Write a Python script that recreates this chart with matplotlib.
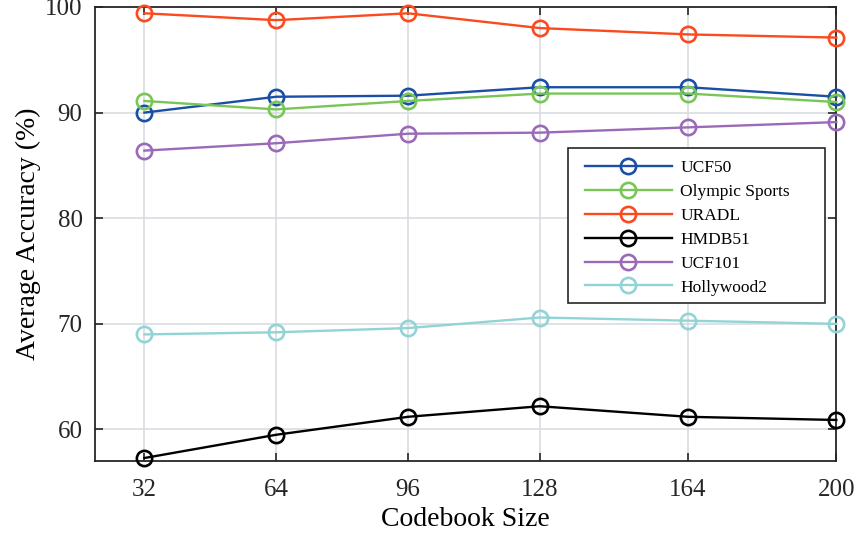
import matplotlib
matplotlib.use("Agg")
import matplotlib.pyplot as plt
from matplotlib.patches import Rectangle

codebook = [32, 64, 96, 128, 164, 200]
ucf50 = [90.0, 91.5, 91.6, 92.4, 92.4, 91.5]
olympic = [91.1, 90.3, 91.1, 91.8, 91.8, 91.0]
uradl = [99.4, 98.75, 99.4, 98.0, 97.4, 97.1]
hmdb51 = [57.3, 59.5, 61.2, 62.2, 61.2, 60.9]
ucf101 = [86.4, 87.1, 88.0, 88.1, 88.6, 89.1]
hollywood2 = [69.0, 69.2, 69.6, 70.6, 70.3, 70.0]

series = [
    ("UCF50", ucf50, "#1a4fa5"),
    ("Olympic Sports", olympic, "#78c655"),
    ("URADL", uradl, "#fa4a1e"),
    ("HMDB51", hmdb51, "#000000"),
    ("UCF101", ucf101, "#9a6ab8"),
    ("Hollywood2", hollywood2, "#92d4d6"),
]

plt.rcParams['font.family'] = ['Liberation Serif', 'DejaVu Serif']

fig = plt.figure(figsize=(8.56, 5.35), dpi=100)
ax = fig.add_axes([0.111, 0.138, 0.866, 0.849])

for name, vals, col in series:
    ax.plot(codebook, vals, color=col, lw=1.7, marker='o', ms=11,
            mfc='none', mec=col, mew=1.9, label=name, clip_on=False, zorder=3)

ax.set_xlim(20, 200)
ax.set_ylim(57, 100)
ax.set_xticks(codebook)
ax.set_yticks([60, 70, 80, 90, 100])
ax.grid(True, color='#d8dbe0', lw=1.2)
ax.set_axisbelow(True)
ax.tick_params(direction='in', length=6, width=1.2, top=True, right=True,
               labelsize=18, colors='#262626')
ax.tick_params(axis='x', pad=13)
ax.tick_params(axis='y', pad=9)
for s in ax.spines.values():
    s.set_linewidth(1.3)
    s.set_color('#262626')

ax.set_xlabel("Codebook Size", fontsize=20, labelpad=4)
ax.set_ylabel("Average Accuracy (%)", fontsize=20, labelpad=3)

# legend frame drawn as a separate box
frame = Rectangle((0.638, 0.348), 0.347, 0.341, transform=ax.transAxes,
                  facecolor='white', edgecolor='#262626', lw=1.2, zorder=4)
ax.add_patch(frame)

leg = ax.legend(loc='upper left', bbox_to_anchor=(0.661, 0.664),
                fontsize=12.5, frameon=False,
                handlelength=5.0, handletextpad=0.5, borderpad=0,
                labelspacing=0.45, borderaxespad=0)
leg.set_zorder(5)

fig.savefig("out.png", dpi=100)
